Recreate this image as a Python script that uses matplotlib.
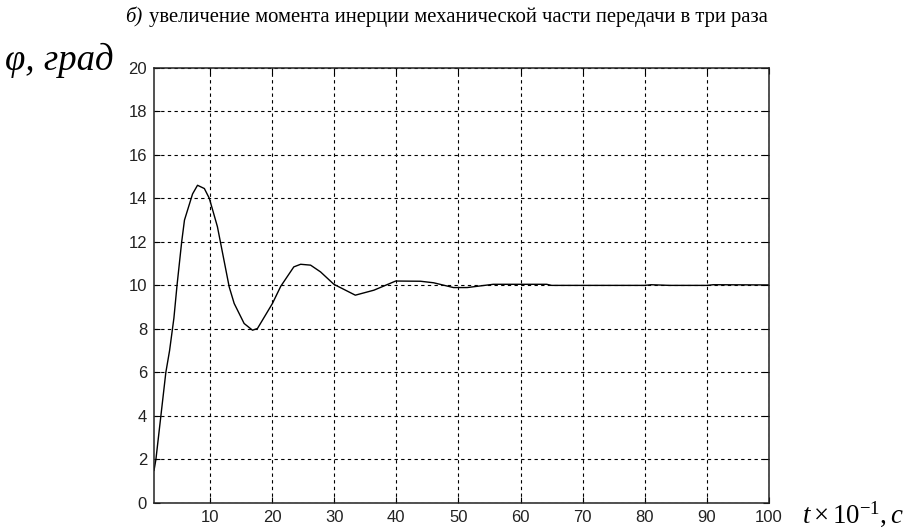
import matplotlib
matplotlib.use('Agg')
import matplotlib.pyplot as plt

# time (x10^-1 s) and angle (deg)
t = [1.0, 1.3, 2.1, 2.9, 3.5, 4.2, 4.7, 5.45, 5.9, 7.2, 8.0, 9.1, 9.9,
     11.2, 13.1, 13.9, 15.5, 16.85, 17.65, 20.06, 21.4, 23.5, 24.6, 26.2,
     27.8, 29.95, 33.4, 36.4, 39.9, 43.9, 46.0, 49.2, 51.4, 55.6, 64.2,
     65.0, 80.0, 81.0, 84.0, 90.0, 91.0, 100.0]
phi = [1.5, 2.0, 4.0, 6.0, 7.0, 8.5, 10.0, 12.0, 13.0, 14.2, 14.6, 14.45,
       14.0, 12.7, 9.93, 9.17, 8.25, 7.94, 8.02, 9.17, 9.96, 10.85, 10.97,
       10.93, 10.62, 10.05, 9.55, 9.78, 10.2, 10.19, 10.12, 9.9, 9.9, 10.05,
       10.05, 10.0, 10.0, 10.03, 10.0, 10.0, 10.03, 10.02]

xticks = [10, 20, 30, 40, 50, 60, 70, 80, 90, 100]
yticks = [0, 2, 4, 6, 8, 10, 12, 14, 16, 18, 20]

title_text = 'увеличение момента инерции механической части передачи в три раза'

plt.rcParams['mathtext.fontset'] = 'custom'
plt.rcParams['mathtext.rm'] = 'Liberation Serif'
plt.rcParams['mathtext.it'] = 'Liberation Serif:italic'

fig = plt.figure(figsize=(9.05, 5.28), dpi=100)
ax = fig.add_axes([0.1702, 0.0473, 0.6796, 0.8244])

ax.plot(t, phi, color='black', linewidth=1.0)

ax.set_xlim(1, 100)
ax.set_ylim(0, 20)
ax.set_xticks(xticks)
ax.set_yticks(yticks)
ax.tick_params(direction='in', length=4, width=0.8, colors='black',
               labelcolor='#222222', labelsize=12, top=True, right=True,
               pad=5)
for lab in ax.get_xticklabels() + ax.get_yticklabels():
    lab.set_family('Liberation Sans')
ax.grid(True, color='black', linestyle=(0, (3, 3)), linewidth=0.8)
for sp in ax.spines.values():
    sp.set_linewidth(1.1)
    sp.set_color('#222222')

# title with italic "б)"
fig.text(0.138, 0.958, 'б)', family='Liberation Serif', style='italic',
         fontsize=14.9, ha='left', va='baseline')
fig.text(0.165, 0.958, title_text, family='Liberation Serif',
         fontsize=14.9, ha='left', va='baseline')

fig.text(0.005, 0.868, 'φ, град', family='Liberation Serif', style='italic',
         fontsize=26.5, ha='left', va='baseline')
fig.text(0.886, 0.010, r'$t\times10^{-1},c$', fontsize=19.3,
         ha='left', va='baseline')

fig.savefig('out.png', dpi=100)
